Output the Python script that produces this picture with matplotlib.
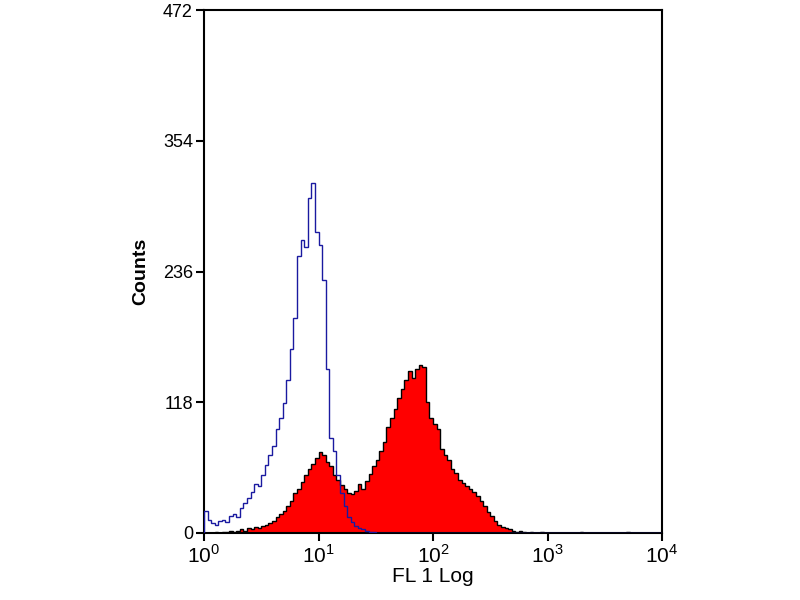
# coding=utf-8
"""
Flow cytometry histogram: isotype control (blue) vs stained sample (red)
"""
import numpy as np
import matplotlib
matplotlib.use('Agg')
import matplotlib.pyplot as plt

plt.rcParams['font.family'] = ['Liberation Sans', 'DejaVu Sans']
plt.rcParams['mathtext.fontset'] = 'custom'
plt.rcParams['mathtext.rm'] = 'Liberation Sans'

# 128 channels over 4 decades (channel i spans 10**(i/32) .. 10**((i+1)/32))
N_CHANNELS = 128

# isotype control counts, channels 0..47 (rest empty)
control_counts = [20, 12, 9, 7, 11, 12, 10, 15, 17, 14,
                  22, 27, 31, 37, 44, 42, 52, 61, 70, 78,
                  94, 104, 117, 138, 166, 194, 250, 264, 258, 302,
                  316, 272, 260, 228, 148, 86, 74, 52, 36, 24,
                  14, 10, 6, 4, 3, 2, 1, 1]

# stained sample counts, channels 0..127
sample_counts = [0, 0, 0, 1, 0, 1, 1, 2, 1, 2,
                 3, 2, 4, 3, 5, 4, 6, 7, 9, 11,
                 14, 17, 20, 24, 29, 36, 40, 46, 52, 58,
                 62, 68, 73, 70, 64, 60, 52, 48, 43, 40,
                 36, 35, 38, 44, 40, 47, 53, 60, 66, 74,
                 82, 96, 104, 112, 122, 130, 138, 146, 140, 148,
                 152, 150, 118, 104, 98, 94, 76, 70, 66, 58,
                 54, 48, 45, 42, 40, 37, 33, 29, 24, 19,
                 15, 11, 7, 5, 4, 3, 2, 1, 2, 1,
                 0, 1, 0, 0, 1, 0, 0, 0, 0, 0,
                 0, 0, 0, 0, 0, 1, 0, 0, 0, 0,
                 0, 0, 0, 0, 0, 0, 0, 0, 1, 0,
                 0, 0, 0, 0, 0, 0, 0, 0]

y_ticks = [0, 118, 236, 354, 472]
x_ticks = [1, 10, 100, 1000, 10000]
x_tick_labels = ['$10^{0}$', '$10^{1}$', '$10^{2}$', '$10^{3}$', '$10^{4}$']

edges = 10 ** (np.arange(N_CHANNELS + 1) / 32.0)
control = np.zeros(N_CHANNELS)
control[:len(control_counts)] = control_counts
sample = np.array(sample_counts, dtype=float)

fig = plt.figure(figsize=(8, 6), dpi=100)
ax = fig.add_axes([0.255, 0.112, 0.5725, 0.871])

ax.stairs(sample, edges, fill=True, color='#ff0000', zorder=2)
ax.stairs(sample, edges, color='black', linewidth=1.0, zorder=3)
ax.stairs(control, edges, color='#1a1aa0', linewidth=1.0, zorder=4)

ax.set_xscale('log')
ax.set_xlim(1, 10000)
ax.set_ylim(0, 472)
ax.set_xticks(x_ticks)
ax.set_xticklabels(x_tick_labels, fontsize=15)
ax.xaxis.set_minor_locator(matplotlib.ticker.NullLocator())
ax.set_yticks(y_ticks)
ax.set_yticklabels([str(v) for v in y_ticks], fontsize=13)

for spine in ax.spines.values():
    spine.set_linewidth(1.5)
ax.tick_params(direction='out', length=6, width=1.5, pad=2)

ax.set_xlabel('FL 1 Log', fontsize=15, labelpad=0)
ax.set_ylabel('Counts', fontsize=14, fontweight='bold', labelpad=10)

fig.savefig('out.png', dpi=100)
